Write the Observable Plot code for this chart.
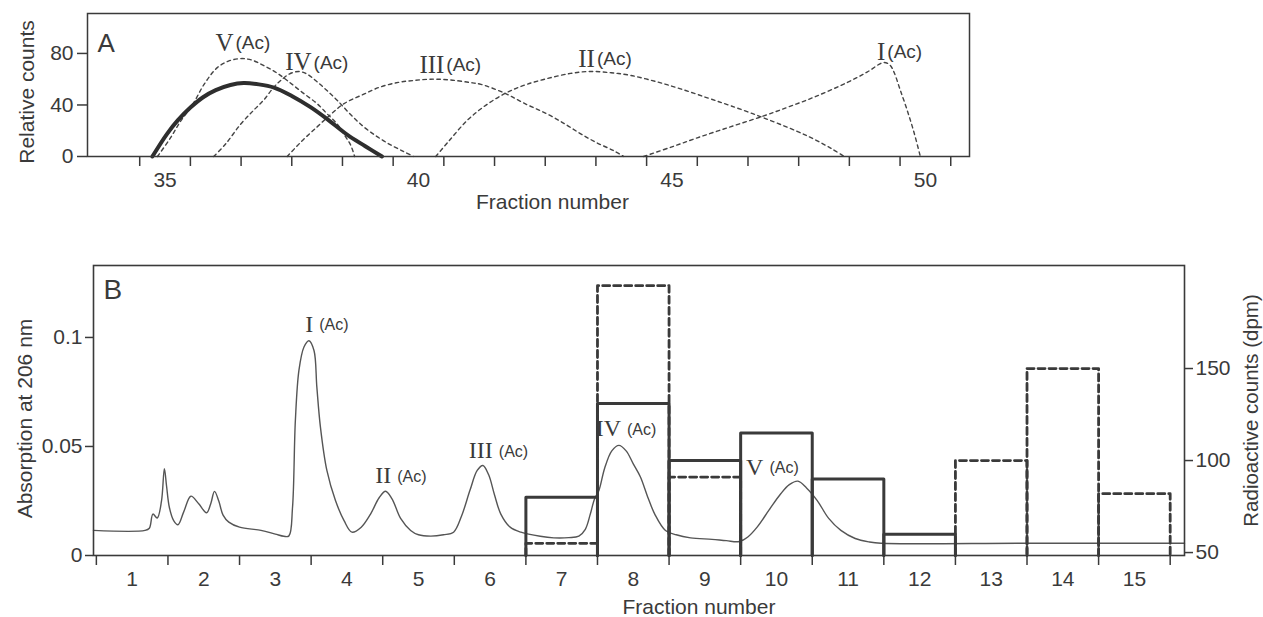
<!DOCTYPE html>
<html><head><meta charset="utf-8">
<script src="https://cdn.jsdelivr.net/npm/d3@7"></script>
<script src="https://cdn.jsdelivr.net/npm/@observablehq/plot@0.6"></script>
<style>
html,body{margin:0;padding:0;background:#fff;}
#wrap{position:relative;width:1263px;height:617px;overflow:hidden;background:#fff;}
#wrap svg{position:absolute;left:0;}
</style></head><body><div id="wrap"></div>
<script>
// ---------- Panel A data (fraction number, relative counts) ----------
const solidA = [[34.75,0],[35.04,17.6],[35.25,28],[35.5,38],[35.75,46],[36.0,51.5],[36.29,55.5],[36.55,57],[36.85,56],[37.15,53.5],[37.5,47],[37.87,38.3],[38.2,29],[38.59,17],[38.95,8],[39.28,0]];
const dashedV = [[34.85,0],[35.1,14],[35.3,27],[35.54,40],[35.77,56],[36.03,69],[36.25,74],[36.49,76],[36.7,75],[36.95,70.5],[37.2,65],[37.41,59],[37.7,50],[38.0,41],[38.2,33],[38.4,25],[38.55,16],[38.66,9],[38.74,0]];
const dashedIV = [[35.96,0],[36.2,10],[36.49,25],[36.75,36],[36.95,44],[37.15,54],[37.28,59],[37.45,64],[37.64,66],[37.8,64],[38.0,58],[38.2,51],[38.4,43.5],[38.65,33],[38.92,23],[39.2,15],[39.45,9],[39.7,4],[39.9,0]];
const dashedIII = [[37.41,0],[37.7,12],[38.0,23],[38.25,32],[38.53,41],[38.9,48],[39.25,54],[39.6,57.5],[39.9,59],[40.24,60],[40.6,59.5],[41.0,57.5],[41.23,56],[41.71,49],[42.1,41],[42.54,33],[42.9,25],[43.2,17.6],[43.5,11],[43.85,4.5],[44.05,0]];
const dashedII = [[40.34,0],[40.6,12],[40.96,28],[41.3,39],[41.71,49],[42.1,55.5],[42.54,60.5],[43.0,64.5],[43.39,66],[43.8,65],[44.18,63],[44.7,58],[45.17,52.5],[45.7,45.5],[46.15,39.5],[46.81,30],[47.47,19.5],[47.8,13.5],[48.13,6.5],[48.4,0]];
const dashedI = [[44.44,0],[45.0,7.5],[45.5,14.5],[46.15,23],[46.81,31.5],[47.3,38.5],[47.8,46],[48.46,57.5],[48.85,65.5],[49.18,73],[49.3,71],[49.38,65.5],[49.5,52],[49.64,36],[49.78,18],[49.9,0]];
const romanA = ["V","IV","III","II","I"];
const labelXA = [36.37, 37.91, 40.53, 43.5, 49.23];
const labelYA = [88, 73, 71, 76, 81];
const binEdgesA = d3.range(34.5, 50.6, 1);
const fractionLabelsA = [35, 40, 45, 50];
const countTicksA = [0, 40, 80];

// ---------- Panel B data ----------
const absorption = [[0.46,0.0115],[1.18,0.0115],[1.24,0.0125],[1.29,0.019],[1.35,0.0172],[1.41,0.025],[1.45,0.0398],[1.48,0.032],[1.52,0.022],[1.58,0.016],[1.64,0.0141],[1.72,0.02],[1.82,0.0272],[1.93,0.0237],[2.04,0.0196],[2.1,0.024],[2.15,0.0294],[2.21,0.025],[2.27,0.0185],[2.35,0.0153],[2.5,0.013],[2.8,0.0115],[3.0,0.0098],[3.12,0.0088],[3.19,0.009],[3.24,0.022],[3.28,0.062],[3.33,0.085],[3.4,0.0956],[3.47,0.0985],[3.54,0.094],[3.58,0.0772],[3.63,0.0589],[3.72,0.039],[3.84,0.0252],[3.96,0.016],[4.07,0.0107],[4.2,0.013],[4.33,0.019],[4.45,0.0265],[4.54,0.0295],[4.63,0.026],[4.75,0.017],[4.89,0.0115],[5.0,0.0095],[5.17,0.0089],[5.35,0.0095],[5.49,0.0107],[5.6,0.018],[5.72,0.03],[5.82,0.039],[5.9,0.0413],[5.98,0.037],[6.06,0.028],[6.15,0.019],[6.28,0.013],[6.43,0.0107],[6.7,0.0088],[6.89,0.0081],[7.1,0.0082],[7.24,0.0089],[7.33,0.012],[7.4,0.019],[7.46,0.026],[7.52,0.0298],[7.6,0.04],[7.7,0.048],[7.8,0.0505],[7.9,0.048],[8.0,0.042],[8.1,0.036],[8.2,0.027],[8.3,0.019],[8.45,0.0115],[8.6,0.0095],[8.8,0.0081],[9.1,0.0074],[9.3,0.0068],[9.48,0.0064],[9.6,0.0085],[9.73,0.013],[9.9,0.021],[10.06,0.0283],[10.18,0.0325],[10.3,0.0341],[10.42,0.031],[10.57,0.0252],[10.73,0.017],[10.9,0.0115],[11.1,0.0078],[11.3,0.0062],[11.46,0.0056],[13.5,0.0056],[15.7,0.0056]];
const solidFractions = [7, 8, 9, 10, 11, 12];
const solidCounts = [80, 131, 100, 115, 90, 60];
const dashedFractions = [7, 8, 9, 13, 14, 15];
const dashedCounts = [55, 195, 91, 100, 150, 82];
const romanB = ["I","II","III","IV","V"];
const labelXB = [3.57, 4.66, 6.08, 7.87, 9.86];
const labelYB = [0.106, 0.0367, 0.0482, 0.0583, 0.0405];
const fractionsB = d3.range(1, 16);
const binEdgesB = d3.range(0.5, 15.6, 1);
const absTicks = [0, 0.05, 0.1];
const dpmTicks = [50, 100, 150];

// ---------- helpers ----------
const ink = "#3a3a3a";
const sans = "'Liberation Sans', Arial, sans-serif";
const serif = "'Liberation Serif', 'Times New Roman', serif";
const dpmToAbs = d => (d - 48.4) * 0.000844;
const absToDpm = v => Math.round(v / 0.000844 + 48.4);

const seriesA = [["V", dashedV], ["IV", dashedIV], ["III", dashedIII], ["II", dashedII], ["I", dashedI]];
const rowsA = seriesA.flatMap(([s, pts]) => pts.map(([x, y]) => ({s, x, y})));
const solidRowsA = solidA.map(([x, y]) => ({x, y}));
const labelRowsA = romanA.map((r, i) => ({r, x: labelXA[i], y: labelYA[i]}));

const absRows = absorption.map(([x, y]) => ({x, y}));
const barRows = (fr, ct) => fr.flatMap((f, i) => {
  const t = dpmToAbs(ct[i]);
  return [{b: i, x: f - 0.5, y: 0}, {b: i, x: f - 0.5, y: t}, {b: i, x: f + 0.5, y: t}, {b: i, x: f + 0.5, y: 0}];
});
const labelRowsB = romanB.map((r, i) => ({r, x: labelXB[i], y: labelYB[i]}));

const wrap = document.getElementById("wrap");

const plotA = Plot.plot({
  width: 1263, height: 220,
  marginLeft: 87, marginRight: 294, marginTop: 13, marginBottom: 64,
  style: {background: "transparent", color: ink, fontFamily: sans, overflow: "visible"},
  x: {domain: [33.47, 50.87], label: null},
  y: {domain: [0, 111], label: null},
  marks: [
    Plot.line(rowsA, {x: "x", y: "y", z: "s", curve: "catmull-rom", stroke: "#444", strokeWidth: 1.4, strokeDasharray: "3.5,3.5"}),
    Plot.line(solidRowsA, {x: "x", y: "y", curve: "catmull-rom", stroke: "#2e2e2e", strokeWidth: 4}),
    Plot.frame({stroke: ink, strokeWidth: 1.5}),
    Plot.axisX({ticks: binEdgesA, tickSize: 10, tickFormat: () => "", strokeWidth: 1.5, label: null}),
    Plot.axisX({ticks: fractionLabelsA, tickSize: 0, tickPadding: 16, fontSize: 21, tickFormat: d => String(d), label: null}),
    Plot.axisY({ticks: countTicksA, tickSize: 10, tickPadding: 4, fontSize: 21, strokeWidth: 1.5, tickFormat: d => String(d), label: null}),
    Plot.text(labelRowsA, {x: "x", y: "y", text: "r", textAnchor: "end", lineAnchor: "middle", fontFamily: serif, fontSize: 25, dx: -1}),
    Plot.text(labelRowsA, {x: "x", y: "y", text: () => "(Ac)", textAnchor: "start", lineAnchor: "middle", fontSize: 19, dx: 1}),
    Plot.text(["A"], {frameAnchor: "top-left", textAnchor: "start", lineAnchor: "middle", dx: 10, dy: 30, fontSize: 26}),
    Plot.text(["Relative counts"], {frameAnchor: "left", rotate: -90, textAnchor: "middle", lineAnchor: "middle", dx: -60, dy: 7, fontSize: 21}),
    Plot.text(["Fraction number"], {frameAnchor: "bottom", textAnchor: "middle", lineAnchor: "middle", dx: 24, dy: 46, fontSize: 21})
  ]
});
plotA.style.top = "0px";
wrap.appendChild(plotA);

const plotB = Plot.plot({
  width: 1263, height: 397,
  marginLeft: 93, marginRight: 79, marginTop: 45, marginBottom: 62,
  style: {background: "transparent", color: ink, fontFamily: sans, overflow: "visible"},
  x: {domain: [0.46, 15.7], label: null},
  y: {domain: [0, 0.133], label: null},
  marks: [
    Plot.line(absRows, {x: "x", y: "y", curve: "catmull-rom", stroke: "#555", strokeWidth: 1.4}),
    Plot.line(barRows(solidFractions, solidCounts), {x: "x", y: "y", z: "b", stroke: "#3a3a3a", strokeWidth: 3}),
    Plot.line(barRows(dashedFractions, dashedCounts), {x: "x", y: "y", z: "b", stroke: "#3a3a3a", strokeWidth: 2.8, strokeDasharray: "7,4"}),
    Plot.frame({stroke: ink, strokeWidth: 1.6}),
    Plot.axisX({ticks: binEdgesB, tickSize: 10, tickFormat: () => "", strokeWidth: 1.5, label: null}),
    Plot.axisX({ticks: fractionsB, tickSize: 0, tickPadding: 16, fontSize: 21, tickFormat: d => String(d), label: null}),
    Plot.axisY({ticks: absTicks, tickSize: 8, tickPadding: 3, fontSize: 21, strokeWidth: 1.5, tickFormat: d => d === 0 ? "0" : String(d), label: null}),
    Plot.axisY({anchor: "right", ticks: dpmTicks.map(dpmToAbs), tickSize: 8, tickPadding: 3, fontSize: 21, strokeWidth: 1.5, tickFormat: v => String(absToDpm(v)), label: null}),
    Plot.text(labelRowsB, {x: "x", y: "y", text: "r", textAnchor: "end", lineAnchor: "middle", fontFamily: serif, fontSize: 24, dx: -3}),
    Plot.text(labelRowsB, {x: "x", y: "y", text: () => "(Ac)", textAnchor: "start", lineAnchor: "middle", fontSize: 16, dx: 3, dy: 1}),
    Plot.text(["B"], {frameAnchor: "top-left", textAnchor: "start", lineAnchor: "middle", dx: 10, dy: 25, fontSize: 28}),
    Plot.text(["Absorption at 206 nm"], {frameAnchor: "left", rotate: -90, textAnchor: "middle", lineAnchor: "middle", dx: -68, dy: 8, fontSize: 21}),
    Plot.text(["Radioactive counts (dpm)"], {frameAnchor: "right", rotate: -90, textAnchor: "middle", lineAnchor: "middle", dx: 67, dy: 0, fontSize: 20.5}),
    Plot.text(["Fraction number"], {frameAnchor: "bottom", textAnchor: "middle", lineAnchor: "middle", dx: 60, dy: 52, fontSize: 21})
  ]
});
plotB.style.top = "220px";
wrap.appendChild(plotB);
</script></body></html>
